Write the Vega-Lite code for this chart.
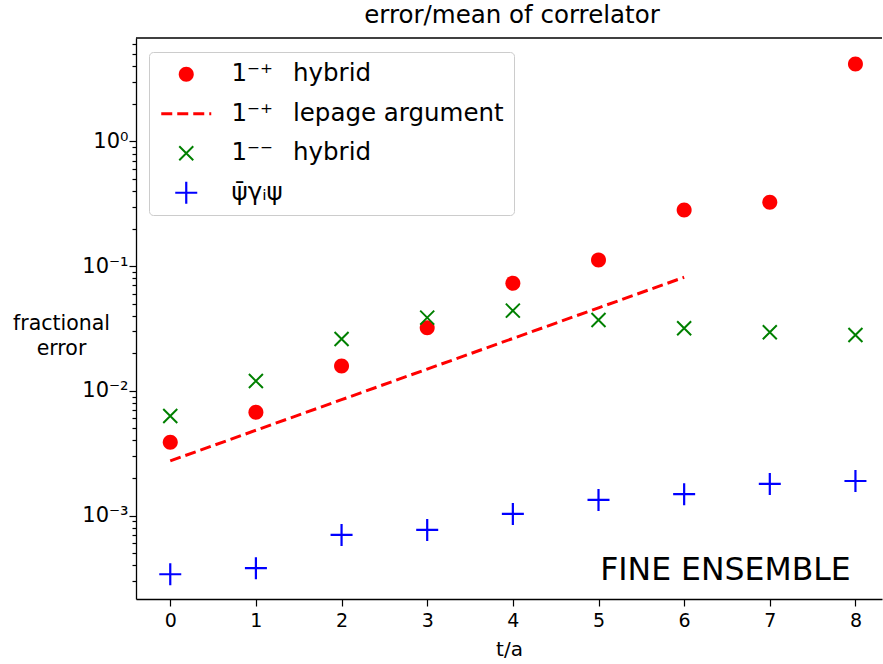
{
  "$schema": "https://vega.github.io/schema/vega-lite/v6.json",
  "autosize": {"type": "none"},
  "width": 746,
  "height": 561,
  "padding": {"left": 136, "top": 38, "right": 1, "bottom": 65},
  "background": "white",
  "config": {
    "view": {"stroke": null},
    "font": "DejaVu Sans",
    "axis": {"labelFont": "DejaVu Sans", "titleFont": "DejaVu Sans", "labelColor": "black", "titleColor": "black", "domainColor": "black", "tickColor": "black", "domainWidth": 1.3, "tickWidth": 1.2, "grid": false}
  },
  "title": {"text": "error/mean of correlator", "fontSize": 24.5, "fontWeight": "normal", "font": "DejaVu Sans", "color": "black", "anchor": "middle", "frame": "group", "offset": 5, "dx": 3},
  "data": {"values": [
    {"t": 0, "value": 0.003873, "series": "1⁻⁺ hybrid"},
    {"t": 1, "value": 0.00673, "series": "1⁻⁺ hybrid"},
    {"t": 2, "value": 0.01584, "series": "1⁻⁺ hybrid"},
    {"t": 3, "value": 0.03213, "series": "1⁻⁺ hybrid"},
    {"t": 4, "value": 0.07295, "series": "1⁻⁺ hybrid"},
    {"t": 5, "value": 0.1122, "series": "1⁻⁺ hybrid"},
    {"t": 6, "value": 0.2823, "series": "1⁻⁺ hybrid"},
    {"t": 7, "value": 0.3252, "series": "1⁻⁺ hybrid"},
    {"t": 8, "value": 4.18, "series": "1⁻⁺ hybrid"},
    {"t": 0, "value": 0.002741, "series": "1⁻⁺ lepage argument"},
    {"t": 1, "value": 0.004827, "series": "1⁻⁺ lepage argument"},
    {"t": 2, "value": 0.008492, "series": "1⁻⁺ lepage argument"},
    {"t": 3, "value": 0.01494, "series": "1⁻⁺ lepage argument"},
    {"t": 4, "value": 0.0263, "series": "1⁻⁺ lepage argument"},
    {"t": 5, "value": 0.04629, "series": "1⁻⁺ lepage argument"},
    {"t": 6, "value": 0.08147, "series": "1⁻⁺ lepage argument"},
    {"t": 0, "value": 0.00629, "series": "1⁻⁻ hybrid"},
    {"t": 1, "value": 0.012, "series": "1⁻⁻ hybrid"},
    {"t": 2, "value": 0.02607, "series": "1⁻⁻ hybrid"},
    {"t": 3, "value": 0.03864, "series": "1⁻⁻ hybrid"},
    {"t": 4, "value": 0.04397, "series": "1⁻⁻ hybrid"},
    {"t": 5, "value": 0.03704, "series": "1⁻⁻ hybrid"},
    {"t": 6, "value": 0.03177, "series": "1⁻⁻ hybrid"},
    {"t": 7, "value": 0.02951, "series": "1⁻⁻ hybrid"},
    {"t": 8, "value": 0.02807, "series": "1⁻⁻ hybrid"},
    {"t": 0, "value": 0.000338, "series": "ψ̄γᵢψ"},
    {"t": 1, "value": 0.000378, "series": "ψ̄γᵢψ"},
    {"t": 2, "value": 0.000699, "series": "ψ̄γᵢψ"},
    {"t": 3, "value": 0.000766, "series": "ψ̄γᵢψ"},
    {"t": 4, "value": 0.00103, "series": "ψ̄γᵢψ"},
    {"t": 5, "value": 0.001334, "series": "ψ̄γᵢψ"},
    {"t": 6, "value": 0.001482, "series": "ψ̄γᵢψ"},
    {"t": 7, "value": 0.001792, "series": "ψ̄γᵢψ"},
    {"t": 8, "value": 0.001892, "series": "ψ̄γᵢψ"}
  ]},
  "encoding": {
    "x": {"field": "t", "type": "quantitative",
      "scale": {"domain": [-0.4, 8.31], "nice": false, "zero": false},
      "axis": {"values": [0, 1, 2, 3, 4, 5, 6, 7, 8], "format": "d", "title": "t/a", "titleFontSize": 20, "titleFontWeight": "normal", "labelFontSize": 19, "tickSize": 7, "labelPadding": 5, "titlePadding": 9, "labelFlush": false}},
    "y": {"field": "value", "type": "quantitative",
      "scale": {"type": "log", "domain": [0.000214, 6.76], "nice": false},
      "axis": {
        "values": [0.0003, 0.0004, 0.0005, 0.0006, 0.0007, 0.0008, 0.0009, 0.001, 0.002, 0.003, 0.004, 0.005, 0.006, 0.007, 0.008, 0.009, 0.01, 0.02, 0.03, 0.04, 0.05, 0.06, 0.07, 0.08, 0.09, 0.1, 0.2, 0.3, 0.4, 0.5, 0.6, 0.7, 0.8, 0.9, 1, 2, 3, 4, 5, 6],
        "labelExpr": "datum.value === 1 ? '10⁰' : datum.value === 0.1 ? '10⁻¹' : datum.value === 0.01 ? '10⁻²' : datum.value === 0.001 ? '10⁻³' : ''",
        "tickSize": {"condition": {"test": "indexof([0.001, 0.01, 0.1, 1], datum.value) >= 0", "value": 7}, "value": 4},
        "labelOverlap": false,
        "labelFontSize": 21,
        "labelPadding": 1,
        "labelBaseline": "middle",
        "title": ["fractional", "error"],
        "titleAngle": 0,
        "titleFontSize": 20.5,
        "titleFontWeight": "normal",
        "titleAlign": "center",
        "titleBaseline": "middle",
        "titleLineHeight": 25,
        "titleX": -75,
        "titleY": 285
      }}
  },
  "layer": [
    {
      "transform": [{"filter": "datum.series === '1⁻⁺ lepage argument'"}],
      "mark": {"type": "line", "color": "#ff0000", "strokeWidth": 3, "strokeDash": [11, 5]}
    },
    {
      "transform": [{"filter": "datum.series !== '1⁻⁺ lepage argument'"}],
      "mark": {"type": "point", "filled": true, "size": 400, "opacity": 1, "strokeWidth": 0},
      "encoding": {
        "color": {"field": "series", "type": "nominal",
          "scale": {"domain": ["1⁻⁺ hybrid", "1⁻⁺ lepage argument", "1⁻⁻ hybrid", "ψ̄γᵢψ"], "range": ["#ff0000", "#ff0000", "#008000", "#0000ff"]},
          "legend": {
            "title": null,
            "orient": "none",
            "legendX": 13,
            "legendY": 14,
            "padding": 10,
            "fillColor": "rgba(255,255,255,0.8)",
            "strokeColor": "#cccccc",
            "cornerRadius": 4,
            "symbolSize": 400,
            "symbolStrokeWidth": 0,
            "symbolOpacity": 1,
            "symbolOffset": 15,
            "labelOffset": 33,
            "labelFontSize": 24.5,
            "labelFont": "DejaVu Sans",
            "labelColor": "black",
            "labelLimit": 500,
            "labelExpr": "replace(datum.label, ' ', '\u2002 ')",
            "rowPadding": 14.5
          }},
        "shape": {"field": "series", "type": "nominal",
          "scale": {"domain": ["1⁻⁺ hybrid", "1⁻⁺ lepage argument", "1⁻⁻ hybrid", "ψ̄γᵢψ"],
            "range": [
              "M0.75,0A0.75,0.75,0,1,1,-0.75,0A0.75,0.75,0,1,1,0.75,0Z",
              "M-2.5,-0.15L-1.4,-0.15L-1.4,0.15L-2.5,0.15ZM-0.9,-0.15L0.2,-0.15L0.2,0.15L-0.9,0.15ZM0.7,-0.15L1.8,-0.15L1.8,0.15L0.7,0.15ZM2.3,-0.15L2.5,-0.15L2.5,0.15L2.3,0.15Z",
              "M-0.63,-0.77L0.77,0.63L0.63,0.77L-0.77,-0.63ZM0.63,-0.77L0.77,-0.63L-0.63,0.77L-0.77,0.63Z",
              "M-1.1,-0.11L1.1,-0.11L1.1,0.11L-1.1,0.11ZM-0.11,-1.1L0.11,-1.1L0.11,1.1L-0.11,1.1Z"
            ]},
          "legend": {
            "title": null,
            "orient": "none",
            "legendX": 13,
            "legendY": 14,
            "padding": 10,
            "fillColor": "rgba(255,255,255,0.8)",
            "strokeColor": "#cccccc",
            "cornerRadius": 4,
            "symbolSize": 400,
            "symbolStrokeWidth": 0,
            "symbolOpacity": 1,
            "symbolOffset": 15,
            "labelOffset": 33,
            "labelFontSize": 24.5,
            "labelFont": "DejaVu Sans",
            "labelColor": "black",
            "labelLimit": 500,
            "labelExpr": "replace(datum.label, ' ', '\u2002 ')",
            "rowPadding": 14.5
          }}
      }
    },
    {
      "transform": [{"filter": "datum.series === 'ψ̄γᵢψ' && datum.t === 8"}],
      "mark": {"type": "rule", "color": "black", "strokeWidth": 1.3},
      "encoding": {"y": {"datum": 6.76}, "x": null}
    },
    {
      "transform": [{"filter": "datum.series === 'ψ̄γᵢψ' && datum.t === 8"}],
      "mark": {"type": "text", "text": "FINE ENSEMBLE", "fontSize": 31.5, "font": "DejaVu Sans", "align": "left", "baseline": "alphabetic", "color": "black"},
      "encoding": {"x": {"datum": 5.02}, "y": {"datum": 0.0003044}}
    }
  ]
}
